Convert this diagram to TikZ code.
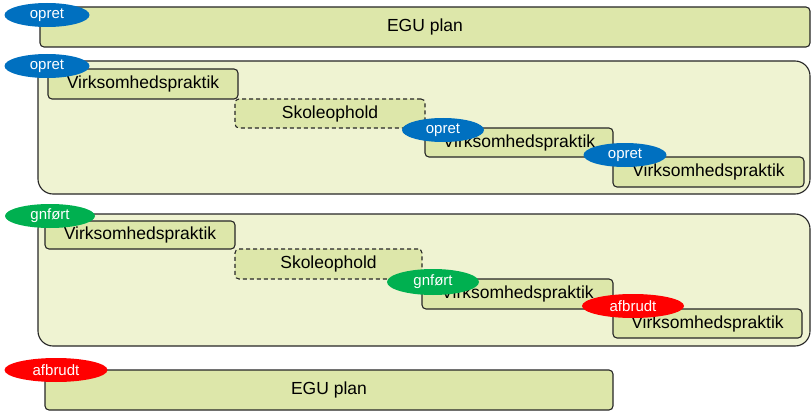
\documentclass[tikz,border=0pt]{standalone}
\usepackage{fontspec}
\setmainfont{Liberation Sans}
\usetikzlibrary{shapes.geometric}

\definecolor{boxfill}{RGB}{221,231,170}
\definecolor{grpfill}{RGB}{239,243,210}
\definecolor{opblue}{RGB}{0,112,192}
\definecolor{okgreen}{RGB}{0,176,80}
\definecolor{stopred}{RGB}{255,0,0}

\begin{document}
\begin{tikzpicture}[x=1pt, y=-1pt, line width=1.1pt,
  box/.style = {draw=black!85, fill=boxfill, rounded corners=4pt, inner sep=0pt, font=\fontsize{17.5}{19}\selectfont},
  dbox/.style = {box, dash pattern=on 4pt off 3pt},
  grp/.style = {draw=black!85, fill=grpfill, rounded corners=15pt, inner sep=0pt},
  tag/.style = {ellipse, draw=none, inner sep=0pt, text=white, minimum height=24pt, font=\fontsize{15}{17}\selectfont}]
\useasboundingbox (0,0) rectangle (812,412);

% EGU plan oprettet
\node[box, minimum width=770pt, minimum height=40pt] (plan1) at (425,27) {EGU plan};
\node[tag, fill=opblue, minimum width=85pt] (op0) at (47,15) {opret};

% forloeb oprettet
\node[grp, minimum width=772pt, minimum height=133pt] (grpA) at (424,127.5) {};
\node[box, minimum width=190pt, minimum height=30pt] (vA1) at (143,84) {Virksomhedspraktik};
\node[dbox, minimum width=190pt, minimum height=29pt] (sA) at (330,113.5) {Skoleophold};
\node[box, minimum width=188pt, minimum height=29pt] (vA2) at (519,142.5) {Virksomhedspraktik};
\node[box, minimum width=191pt, minimum height=30pt] (vA3) at (708.5,172) {Virksomhedspraktik};
\node[tag, fill=opblue, minimum width=85pt] (op1) at (47,66) {opret};
\node[tag, fill=opblue, minimum width=82pt] (op2) at (443,130) {opret};
\node[tag, fill=opblue, minimum width=83pt] (op3) at (625,155) {opret};

% forloeb gennemfoert
\node[grp, minimum width=772pt, minimum height=132pt] (grpB) at (424,280) {};
\node[box, minimum width=190pt, minimum height=28pt] (vB1) at (140,235) {Virksomhedspraktik};
\node[dbox, minimum width=187pt, minimum height=30pt] (sB) at (328.5,264) {Skoleophold};
\node[box, minimum width=191pt, minimum height=30pt] (vB2) at (517.5,294) {Virksomhedspraktik};
\node[box, minimum width=189pt, minimum height=29pt] (vB3) at (707.5,323.5) {Virksomhedspraktik};
\node[tag, fill=okgreen, minimum width=90pt] (gn1) at (50,216) {gnført};
\node[tag, fill=okgreen, minimum width=92pt, minimum height=26pt] (gn2) at (433,282) {gnført};
\node[tag, fill=stopred, minimum width=102pt] (af1) at (633,306) {afbrudt};

% EGU plan afbrudt
\node[box, minimum width=568pt, minimum height=40pt] (plan2) at (329,390) {EGU plan};
\node[tag, fill=stopred, minimum width=103pt] (af2) at (56,370) {afbrudt};
\end{tikzpicture}
\end{document}
